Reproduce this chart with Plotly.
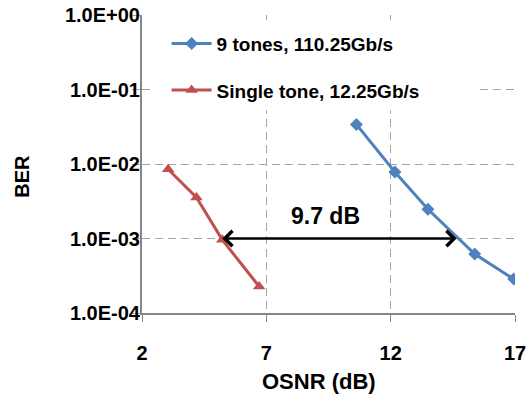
import plotly.graph_objects as go
import math

# ---- data ----
nine_osnr = [10.62, 12.17, 13.50, 15.38, 16.95]
nine_ber = [3.4e-2, 7.8e-3, 2.47e-3, 6.2e-4, 2.85e-4]
single_osnr = [3.05, 4.19, 5.23, 6.71]
single_ber = [8.5e-3, 3.55e-3, 9.6e-4, 2.27e-4]
nine_name = "9 tones, 110.25Gb/s"
single_name = "Single tone, 12.25Gb/s"

y_tickvals = [1e0, 1e-1, 1e-2, 1e-3, 1e-4]
y_ticktext = ["1.0E+00", "1.0E-01", "1.0E-02", "1.0E-03", "1.0E-04"]
x_tickvals = [2, 7, 12, 17]

arrow_ber = 1e-3
arrow_left = 5.17
arrow_right = 14.65
gap_label = "9.7 dB"
gap_label_x = 9.36
gap_label_ber = 2.0e-3

BLUE = "#4F81BD"
RED = "#C0504D"
GRID = "#A6A6A6"
AXIS = "#868686"
FONT = "Liberation Sans"

fig = go.Figure()
fig.add_trace(go.Scatter(
    x=nine_osnr, y=nine_ber, name=nine_name, mode="lines+markers",
    line=dict(color=BLUE, width=3),
    marker=dict(symbol="diamond", size=10, color=BLUE),
    legendgroup="a",
))
fig.add_trace(go.Scatter(
    x=single_osnr, y=single_ber, name=single_name, mode="lines+markers",
    line=dict(color=RED, width=3),
    marker=dict(symbol="triangle-up", size=11, color=RED),
    legendgroup="b",
))

# white backdrop behind legend (hides gridlines, as in the original)
fig.add_shape(type="rect", xref="paper", yref="paper",
              x0=0.03, x1=0.905, y0=0.68, y1=0.982,
              fillcolor="white", line=dict(width=0), layer="above")

fig.add_annotation(
    x=arrow_right, y=math.log10(arrow_ber), ax=arrow_left, ay=math.log10(arrow_ber),
    xref="x", yref="y", axref="x", ayref="y", text="",
    showarrow=True, arrowhead=4, arrowside="end+start", arrowsize=1.2,
    arrowwidth=2.5, arrowcolor="black",
)
fig.add_annotation(
    x=gap_label_x, y=math.log10(gap_label_ber), xref="x", yref="y",
    text=gap_label, showarrow=False,
    font=dict(family=FONT, size=23, color="black", weight="bold"),
)
# axis titles
fig.add_annotation(
    x=-0.324, y=0.458, xref="paper", yref="paper", text="BER", textangle=-90,
    showarrow=False, xanchor="center", yanchor="middle",
    font=dict(family=FONT, size=20, color="black", weight="bold"),
)
fig.add_annotation(
    x=0.474, y=-0.229, xref="paper", yref="paper", text="OSNR (dB)",
    showarrow=False, xanchor="center", yanchor="middle",
    font=dict(family=FONT, size=22, color="black", weight="bold"),
)

fig.update_layout(
    width=530, height=396,
    margin=dict(l=142, r=15, t=15, b=83, autoexpand=False),
    paper_bgcolor="white", plot_bgcolor="white",
    showlegend=True,
    legend=dict(
        x=0.066, y=0.968, xanchor="left", yanchor="top",
        bgcolor="rgba(0,0,0,0)", borderwidth=0,
        font=dict(family=FONT, size=19, color="black", weight="bold"),
        tracegroupgap=19, traceorder="grouped", itemwidth=40,
    ),
    font=dict(family=FONT, color="black"),
)
fig.update_xaxes(
    range=[2, 17], tickvals=x_tickvals, showgrid=True, gridcolor=GRID,
    griddash="8px,5px", gridwidth=1, automargin=False,
    showline=True, linecolor=AXIS, linewidth=2, mirror=False,
    ticks="outside", ticklen=7, tickcolor=AXIS, tickwidth=1,
    tickfont=dict(family=FONT, size=20, color="black", weight="bold"),
    ticklabelstandoff=14, zeroline=False, ticklabeloverflow="allow",
)
fig.update_yaxes(
    type="log", range=[-4, 0], tickvals=y_tickvals, ticktext=y_ticktext,
    showgrid=True, gridcolor=GRID, griddash="8px,5px", gridwidth=1,
    automargin=False,
    showline=True, linecolor=AXIS, linewidth=2, mirror=False,
    ticks="outside", ticklen=8, tickcolor=GRID, tickwidth=1,
    tickfont=dict(family=FONT, size=20, color="black", weight="bold"),
    ticklabelstandoff=-12, zeroline=False, ticklabeloverflow="allow",
)

fig.write_html(
    "out.html",
    config={"displayModeBar": False},
    post_script="document.body.style.margin='0';document.body.style.overflow='hidden';",
)
